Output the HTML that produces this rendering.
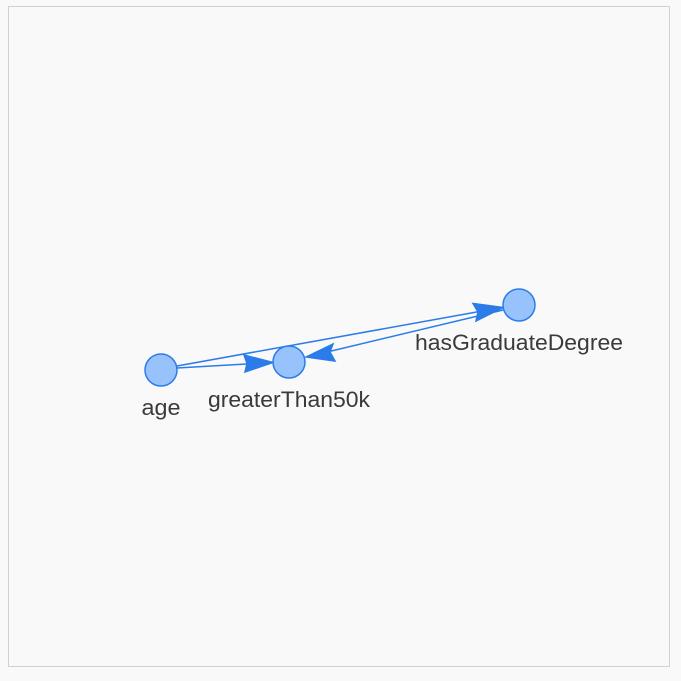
<!DOCTYPE html>
<html><head><style>
html,body{margin:0;padding:0;background:#f9f9f9;}
svg{display:block;}
text{font-family:"Liberation Sans",Arial,sans-serif;font-size:22px;fill:#3a3a3a;text-anchor:middle;}
</style></head><body>
<svg width="681" height="681" viewBox="0 0 681 681">
<rect x="0" y="0" width="681" height="681" fill="#f9f9f9"/>
<rect x="8.5" y="6.5" width="661" height="660" fill="#f9f9f9" stroke="#d0d0d0" stroke-width="1"/>
<g stroke="#2b7ce9" stroke-width="1.5" fill="#2b7ce9">
<line x1="177" y1="368" x2="255" y2="363.5"/>
<polygon points="273,362.5 244,355 247,363.5 245,372"/>
<line x1="177" y1="366" x2="485" y2="310.5"/>
<polygon points="503,307.5 473,303.5 478,312 476,321"/>
<line x1="503" y1="310" x2="323" y2="353"/>
<polygon points="306,357 333,344 330,352 335,361"/>
</g>
<g fill="#97c2fc" stroke="#2b7ce9" stroke-width="1.5">
<circle cx="161" cy="370" r="16"/>
<circle cx="289" cy="362" r="16"/>
<circle cx="519" cy="305" r="16"/>
</g>
<text x="161" y="415" textLength="39" lengthAdjust="spacingAndGlyphs">age</text>
<text x="289" y="407" textLength="162" lengthAdjust="spacingAndGlyphs">greaterThan50k</text>
<text x="519" y="350" textLength="208" lengthAdjust="spacingAndGlyphs">hasGraduateDegree</text>
</svg>
</body></html>
